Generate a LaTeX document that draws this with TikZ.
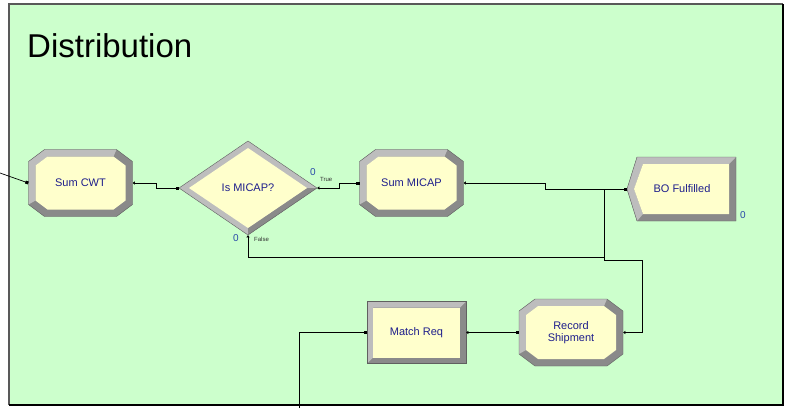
\documentclass[tikz,border=0pt]{standalone}
\usepackage{fontspec}
\setmainfont{Liberation Sans}
\usepackage{xcolor}
\usepackage{tikz}
\usetikzlibrary{arrows.meta}

\definecolor{fondo}{HTML}{CCFFCC}
\definecolor{amarillo}{HTML}{FFFFCC}
\definecolor{claro}{HTML}{BDBDBD}
\definecolor{oscuro}{HTML}{8A8A8A}
\definecolor{azultexto}{HTML}{1E1E8C}
\definecolor{contador}{HTML}{2848A8}

% bloques con bisel (centro en #2,#3)
\newcommand{\octabloque}[4]{%
  \begin{scope}[shift={(#2,#3)}]
    \fill[oscuro] (-36,-33.5) -- (36,-33.5) -- (52,-21.5) -- (52,21.5) -- (36,33.5) -- (-36,33.5) -- (-52,21.5) -- (-52,-21.5) -- cycle;
    \fill[claro] (-52,21.5) -- (-52,-21.5) -- (-36,-33.5) -- (36,-33.5) -- (33,-26.5) -- (-33,-26.5) -- (-45,-17.5) -- (-45,17.5) -- cycle;
    \fill[amarillo] (-33,-26.5) -- (33,-26.5) -- (45,-17.5) -- (45,17.5) -- (33,26.5) -- (-33,26.5) -- (-45,17.5) -- (-45,-17.5) -- cycle;
    \draw[borde] (-36,-33.5) -- (36,-33.5) -- (52,-21.5) -- (52,21.5) -- (36,33.5) -- (-36,33.5) -- (-52,21.5) -- (-52,-21.5) -- cycle;
    \node[bloque, minimum width=104pt, minimum height=67pt] (#1) at (0,0) {#4};
  \end{scope}}
\newcommand{\rombobloque}[4]{%
  \begin{scope}[shift={(#2,#3)}]
    \fill[claro] (-69,0) -- (0,-47) -- (69,0) -- (0,47) -- cycle;
    \fill[oscuro] (69,0) -- (0,47) -- (0,40) -- (59,0) -- cycle;
    \fill[amarillo] (-59,0) -- (0,-40) -- (59,0) -- (0,40) -- cycle;
    \draw[borde] (-69,0) -- (0,-47) -- (69,0) -- (0,47) -- cycle;
    \node[bloque, minimum width=138pt, minimum height=94pt] (#1) at (0,0) {#4};
  \end{scope}}
\newcommand{\rectbloque}[4]{%
  \begin{scope}[shift={(#2,#3)}]
    \fill[oscuro] (-49.5,-31) rectangle (49.5,31);
    \fill[claro] (-49.5,31) -- (-49.5,-31) -- (49.5,-31) -- (43.5,-25) -- (-43.5,-25) -- (-43.5,25) -- cycle;
    \fill[amarillo] (-43.5,-25) rectangle (43.5,25);
    \draw[borde] (-49.5,-31) rectangle (49.5,31);
    \node[bloque, minimum width=99pt, minimum height=62pt] (#1) at (0,0) {#4};
  \end{scope}}
\newcommand{\salidabloque}[4]{%
  \begin{scope}[shift={(#2,#3)}]
    \fill[oscuro] (-55,0) -- (-45,-32) -- (54,-32) -- (54,32) -- (-45,32) -- cycle;
    \fill[claro] (-45,32) -- (-55,0) -- (-45,-32) -- (54,-32) -- (47,-25) -- (-39,-25) -- (-48,0) -- (-39,25) -- cycle;
    \fill[amarillo] (-48,0) -- (-39,-25) -- (47,-25) -- (47,25) -- (-39,25) -- cycle;
    \draw[borde] (-55,0) -- (-45,-32) -- (54,-32) -- (54,32) -- (-45,32) -- cycle;
    \node[bloque, minimum width=110pt, minimum height=64pt] (#1) at (0,0) {#4};
  \end{scope}}

\begin{document}
\begin{tikzpicture}[x=1pt, y=-1pt,
  bloque/.style={inner sep=0pt, text=azultexto, align=center, font=\fontsize{11}{12.5}\selectfont},
  borde/.style={draw=gray!75!black, line width=0.4pt},
  conector/.style={{Triangle[length=2.2pt,width=3.2pt]}-{Square[length=3pt,width=3pt]}, line width=0.7pt},
  llegada/.style={-{Square[length=3pt,width=3pt]}, line width=0.7pt},
  cuenta/.style={text=contador, font=\fontsize{10}{12}\selectfont, inner sep=0pt},
  rama/.style={text=black!80, font=\fontsize{6}{7}\selectfont, inner sep=0pt}]
\useasboundingbox (0,0) rectangle (790,408);
\fill[white] (0,0) rectangle (790,408);
\fill[fondo] (9,4) rectangle (783,405);
\draw[gray!70!black, line width=1.2pt] (9,405) -- (9,4) -- (783,4);
\draw[black, line width=1.6pt] (783,4) -- (783,405) -- (9,405);
\node[anchor=base west, inner sep=0pt, font=\fontsize{33}{36}\selectfont] (titulo) at (27,57) {Distribution};

\octabloque{sumcwt}{80.5}{183}{Sum CWT}
\rombobloque{ismicap}{248}{188}{Is MICAP?}
\octabloque{summicap}{411.5}{183}{Sum MICAP}
\salidabloque{bofulfilled}{682}{189}{BO Fulfilled}
\rectbloque{matchreq}{416.5}{332.5}{Match Req}
\octabloque{recordship}{571}{332.5}{Record\\Shipment}

\node[cuenta] (cuentatrue) at (313,172) {0};
\node[cuenta] (cuentafalse) at (236,238) {0};
\node[cuenta] (cuentabo) at (743,215) {0};
\node[rama, anchor=west] (ramatrue) at (320,179) {True};
\node[rama, anchor=west] (ramafalse) at (254,239) {False};

\coordinate (entrada) at (0,173);
\coordinate (abajo) at (299,408);
\draw[llegada] (entrada) -- (sumcwt.west);
\draw[conector] (sumcwt.east) -- ++(24,0) |- (ismicap.west);
\draw[conector] (ismicap.east) -- ++(22,0) |- (summicap.west);
\draw[conector] (summicap.east) -- ++(82,0) |- (bofulfilled.west);
\draw[conector] (ismicap.south) -- ++(0,22) -| ([xshift=-22pt]bofulfilled.west) -- (bofulfilled.west);
\draw[conector] (recordship.east) -- ++(19,0) -- ++(0,-72) -| ([xshift=-22pt]bofulfilled.west) -- (bofulfilled.west);
\draw[conector] (matchreq.east) -- (recordship.west);
\draw[llegada] (abajo) |- (matchreq.west);
\end{tikzpicture}
\end{document}
